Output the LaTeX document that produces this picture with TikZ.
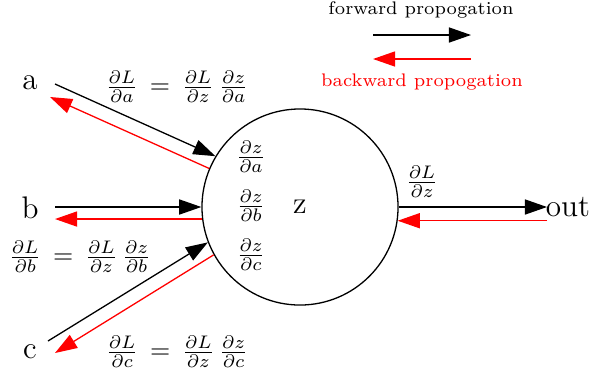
\documentclass[tikz,border=0pt]{standalone}
\usepackage{amsmath,amssymb}
\usepackage{xcolor}
\usepackage{tikz}
\usetikzlibrary{arrows.meta}
\definecolor{forwardcolor}{HTML}{000000}
\definecolor{backwardcolor}{HTML}{FF0000}
\tikzset{
  var label/.style={
    font=\large,
    inner sep=0pt
  },
  neuron/.style={
    circle,
    draw=black,
    line width=0.5pt,
    inner sep=0pt,
    font=\large
  },
  forward pass/.style={
    draw=forwardcolor,
    line width=0.5pt,
    -{Triangle[length=8.5pt,width=5.8pt]}
  },
  backward pass/.style={
    draw=backwardcolor,
    line width=0.5pt,
    -{Triangle[length=8.5pt,width=5.8pt]}
  },
  grad label/.style={
    inner sep=0pt
  },
  legend text/.style={
    font=\scriptsize,
    inner sep=0pt
  }
}
\newcommand{\pd}[2]{\frac{\partial #1}{\partial #2}}

\begin{document}
\begin{tikzpicture}[x=0.3846pt,y=-0.3846pt]
  \useasboundingbox (0,0) rectangle (590,376);

  \node[neuron, minimum size=75.4pt] (Z) at (300,207) {z};

  \node[var label] (A) at (30,83) {a};
  \node[var label] (B) at (30,208) {b};
  \node[var label] (C) at (30,352) {c};
  \node[var label] (Out) at (568,207) {out};

  \coordinate (A-fw) at (55,84);
  \coordinate (A-bw) at (50,97);
  \coordinate (B-fw) at (55,207);
  \coordinate (B-bw) at (55,220);
  \coordinate (C-fw) at (48,341);
  \coordinate (C-bw) at (55,353);
  \coordinate (Out-fw) at (547,207);
  \coordinate (Out-bw) at (547,220);

  \draw[forward pass] (A-fw) -- (Z.149.5);
  \draw[backward pass] (Z.157) -- (A-bw);
  \draw[forward pass] (B-fw) -- (B-fw -| Z.west);
  \draw[backward pass] (Z.187.6) -- (Z.187.6 -| B-bw);
  \draw[forward pass] (C-fw) -- (Z.201.4);
  \draw[backward pass] (Z.209.5) -- (C-bw);
  \draw[forward pass] (Z.east) -- (Z.east -| Out-fw);
  \draw[backward pass] (Z.352.4 -| Out-bw) -- (Z.352.4);

  \node[grad label] (dzda) at (251,157) {$\pd{z}{a}$};
  \node[grad label] (dzdb) at (251,206) {$\pd{z}{b}$};
  \node[grad label] (dzdc) at (251,255) {$\pd{z}{c}$};
  \node[grad label] (dLdz) at (422,182) {$\pd{L}{z}$};

  \node[grad label] (dLda) at (177,87) {$\pd{L}{a} \,=\, \pd{L}{z}\,\pd{z}{a}$};
  \node[grad label] (dLdb) at (80,257) {$\pd{L}{b} \,=\, \pd{L}{z}\,\pd{z}{b}$};
  \node[grad label] (dLdc) at (177,352) {$\pd{L}{c} \,=\, \pd{L}{z}\,\pd{z}{c}$};

  \node[legend text] (fwtext) at (421,10) {forward propogation};
  \coordinate (fw-start) at (373,35);
  \coordinate (fw-end) at (471,35);
  \draw[forward pass] (fw-start) -- (fw-end);
  \coordinate (bw-start) at (471,59);
  \coordinate (bw-end) at (373,59);
  \draw[backward pass] (bw-start) -- (bw-end);
  \node[legend text, text=backwardcolor] (bwtext) at (422,82) {backward propogation};
\end{tikzpicture}
\end{document}
